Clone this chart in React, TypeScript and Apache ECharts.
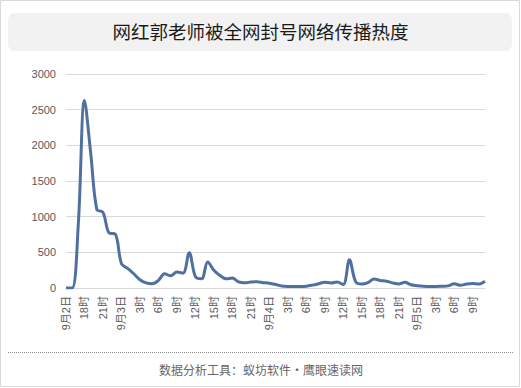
import React, { useEffect, useRef } from "react";
import * as echarts from "echarts";

const TITLE = "网红郭老师被全网封号网络传播热度";
const FOOTER = "数据分析工具：蚁坊软件·鹰眼速读网";

// hourly categories from 9月2日 15时 to 9月5日 11时
const categories = [
  "9月2日", "16时", "17时", "18时", "19时", "20时", "21时", "22时", "23时",
  "9月3日", "1时", "2时", "3时", "4时", "5时", "6时", "7时", "8时", "9时", "10时", "11时", "12时", "13时", "14时",
  "15时", "16时", "17时", "18时", "19时", "20时", "21时", "22时", "23时",
  "9月4日", "1时", "2时", "3时", "4时", "5时", "6时", "7时", "8时", "9时", "10时", "11时", "12时", "13时", "14时",
  "15时", "16时", "17时", "18时", "19时", "20时", "21时", "22时", "23时",
  "9月5日", "1时", "2时", "3时", "4时", "5时", "6时", "7时", "8时", "9时", "10时", "11时",
];

const heat = [
  0, 0, 900, 2630, 1900, 1100, 1060, 770, 755,
  340, 275, 200, 116, 72, 60, 106, 200, 170, 225, 208, 495, 160, 130, 365,
  250, 175, 128, 140, 85, 72, 85, 88, 75,
  68, 50, 27, 22, 22, 22, 25, 40, 60, 82, 70, 83, 48, 395, 90,
  55, 75, 125, 106, 95, 72, 55, 80, 45,
  33, 25, 22, 22, 25, 30, 60, 38, 55, 62, 55, 95,
];

const yMax = 3000;
const yStep = 500;

export default function App() {
  const ref = useRef<HTMLDivElement>(null);
  useEffect(() => {
    document.body.style.margin = "0";
    if (!ref.current) return;
    const chart = echarts.init(ref.current, undefined, { renderer: "svg" });
    const axisFont = "'Liberation Sans', 'Noto Sans CJK SC', sans-serif";
    chart.setOption({
      animation: false,
      backgroundColor: "#ffffff",
      title: {
        text: TITLE,
        left: "center",
        top: 17,
        textStyle: {
          fontFamily: "'Noto Sans CJK SC', sans-serif",
          fontSize: 18.5,
          fontWeight: "normal",
          color: "#1a1a1a",
        },
      },
      graphic: [
        {
          type: "rect",
          z: -1,
          shape: { x: 0.5, y: 0.5, width: 519, height: 386 },
          style: { fill: "none", stroke: "#d9d9d9", lineWidth: 1 },
        },
        {
          type: "rect",
          z: -1,
          shape: { x: 8, y: 13, width: 504, height: 38, r: 7 },
          style: { fill: "#f2f2f2" },
        },
        {
          type: "line",
          shape: { x1: 8, y1: 352.5, x2: 513, y2: 352.5 },
          style: { stroke: "#8c8c8c", lineWidth: 1, lineDash: [1, 1] },
        },
        {
          type: "text",
          x: 261,
          y: 369,
          style: {
            text: FOOTER,
            fill: "#666666",
            font: "12px 'Noto Sans CJK SC', sans-serif",
            align: "center",
            verticalAlign: "middle",
          },
        },
      ],
      grid: { left: 66, right: 36, top: 74, bottom: 100, containLabel: false },
      xAxis: {
        type: "category",
        data: categories,
        boundaryGap: false,
        axisLine: { lineStyle: { color: "#d9d9d9", width: 1 } },
        axisTick: { show: false },
        axisLabel: {
          interval: 2,
          rotate: 90,
          margin: 8,
          color: "#595959",
          fontSize: 11,
          fontFamily: axisFont,
        },
      },
      yAxis: {
        type: "value",
        min: 0,
        max: yMax,
        interval: yStep,
        axisLine: { show: false },
        axisTick: { show: false },
        splitLine: { lineStyle: { color: "#d9d9d9", width: 1 } },
        axisLabel: {
          margin: 10,
          color: "#595959",
          fontSize: 11,
          fontFamily: axisFont,
          formatter: (v: number) => String(v),
        },
      },
      series: [
        {
          type: "line",
          data: heat,
          smooth: 0.35,
          symbol: "none",
          lineStyle: { color: "#50709f", width: 3 },
        },
      ],
    });
    return () => chart.dispose();
  }, []);
  return <div ref={ref} style={{ width: 521, height: 388 }} />;
}
